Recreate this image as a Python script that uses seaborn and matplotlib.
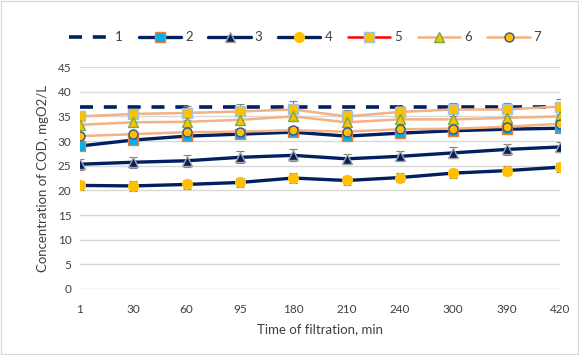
import numpy as np
import pandas as pd
import matplotlib
matplotlib.use("Agg")
import matplotlib.pyplot as plt
import seaborn as sns
from matplotlib.lines import Line2D

# data
times = ["1", "30", "60", "95", "180", "210", "240", "300", "390", "420"]
s1 = [37.0, 37.0, 37.0, 37.0, 37.0, 37.0, 37.0, 37.0, 37.0, 37.0]
s2 = [29.0, 30.2, 31.0, 31.4, 31.8, 31.0, 31.6, 32.1, 32.4, 32.6]
s3 = [25.3, 25.7, 26.0, 26.7, 27.1, 26.4, 26.9, 27.6, 28.3, 28.8]
s4 = [21.0, 20.9, 21.2, 21.6, 22.5, 22.0, 22.6, 23.5, 24.0, 24.7]
s5 = [35.0, 35.5, 35.7, 36.0, 36.4, 35.0, 35.9, 36.4, 36.4, 37.0]
s6 = [33.3, 33.8, 33.9, 34.3, 35.0, 33.8, 34.4, 34.4, 34.7, 35.0]
s7 = [31.0, 31.4, 31.8, 31.9, 32.2, 31.9, 32.4, 32.5, 32.9, 33.5]
err3 = [1.1, 1.1, 1.2, 1.2, 1.2, 1.0, 1.0, 1.1, 1.1, 1.1]
err4 = [0.9, 1.0, 1.0, 1.0, 1.0, 0.9, 1.0, 0.9, 0.9, 0.9]
err5 = [0.6, 0.8, 1.5, 1.6, 1.8, 1.3, 1.3, 1.4, 1.4, 1.6]

navy = "#002060"
salmon = "#F4B183"
gold = "#FFC000"

sns.set_theme(style="white")
plt.rcParams["font.family"] = ["Lato", "DejaVu Sans"]

df = pd.DataFrame({"pos": np.arange(len(times)), "s1": s1, "s2": s2, "s3": s3,
                   "s4": s4, "s5": s5, "s6": s6, "s7": s7})

fig = plt.figure(figsize=(5.79, 3.55), dpi=100)
ax = fig.add_axes([0.138, 0.186, 0.829, 0.625])

styles = {
    "s1": dict(color=navy, lw=2.6, ls=(0, (3.6, 3.0)), marker=None),
    "s2": dict(color=navy, lw=2.4, marker="s", mfc="#00B0F0", mec="#ED7D31", ms=6.5, mew=1.0),
    "s3": dict(color=navy, lw=2.4, marker="^", mfc=navy, mec="#A5A5A5", ms=6.5, mew=1.0),
    "s4": dict(color=navy, lw=2.4, marker="o", mfc=gold, mec=gold, ms=7, mew=1.0),
    "s5": dict(color=salmon, lw=1.8, marker="s", mfc=gold, mec="#9DC3E6", ms=6.5, mew=1.0),
    "s6": dict(color=salmon, lw=1.8, marker="^", mfc=gold, mec="#70AD47", ms=6.5, mew=1.0),
    "s7": dict(color=salmon, lw=1.8, marker="o", mfc=gold, mec="#2F5597", ms=6.5, mew=1.0),
}
errs = {"s3": err3, "s4": err4, "s5": err5}

for i, key in enumerate(["s1", "s4", "s3", "s2", "s5", "s6", "s7"]):
    st = styles[key]
    if key in errs:
        ax.errorbar(df["pos"], df[key], yerr=errs[key], fmt="none", ecolor="#7F7F7F",
                    elinewidth=0.8, capsize=3, capthick=0.8, zorder=2 + i)
    sns.lineplot(data=df, x="pos", y=key, ax=ax, color=st["color"], linewidth=st["lw"],
                 linestyle=st.get("ls", "-"), marker=st["marker"],
                 markerfacecolor=st.get("mfc"), markeredgecolor=st.get("mec"),
                 markersize=st.get("ms", 6), markeredgewidth=st.get("mew", 1),
                 zorder=3 + i, legend=False)

ax.set_xlim(0, len(times) - 1)
ax.set_ylim(0, 45)
ax.set_yticks(range(0, 46, 5))
ax.set_xticks(df["pos"])
ax.set_xticklabels(times)
ax.yaxis.grid(True, color="#D9D9D9", lw=1)
for sp in ax.spines.values():
    sp.set_visible(False)
ax.tick_params(axis="both", length=0, labelsize=8.5, colors="#404040", pad=6)
ax.tick_params(axis="x", pad=11)
ax.set_xlabel("Time of filtration, min", fontsize=9.5, color="#404040", labelpad=6)
ax.set_ylabel("Concentration of COD, mgO2/L", fontsize=9.5, color="#404040", labelpad=6)

legend_cols = {"s1": navy, "s2": navy, "s3": navy, "s4": navy, "s5": "#FF0000",
               "s6": salmon, "s7": salmon}
handles = []
for key in ["s1", "s2", "s3", "s4", "s5", "s6", "s7"]:
    st = styles[key]
    handles.append(Line2D([], [], color=legend_cols[key], lw=st["lw"],
                          ls=st.get("ls", "-"), marker=st["marker"],
                          mfc=st.get("mfc"), mec=st.get("mec"),
                          ms=st.get("ms", 6), mew=st.get("mew", 1)))
fig.legend(handles, ["1", "2", "3", "4", "5", "6", "7"], loc="center",
           bbox_to_anchor=(0.527, 0.895), ncol=7, frameon=False, fontsize=9.5,
           handlelength=3.2, handletextpad=0.3, columnspacing=1.2,
           labelcolor="#404040")

fig.patches.append(plt.Rectangle((0.001, 0.002), 0.997, 0.995, transform=fig.transFigure,
                                 fill=False, ec="#D9D9D9", lw=1))

fig.savefig("out.png", dpi=100)
